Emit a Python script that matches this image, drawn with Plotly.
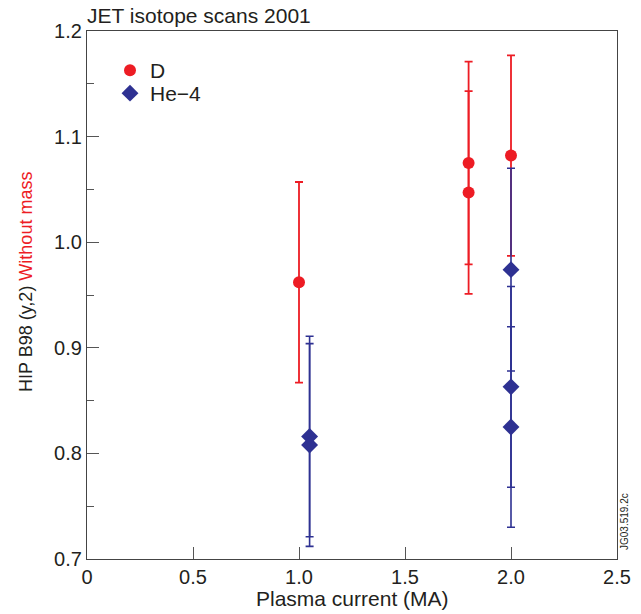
import plotly.graph_objects as go

# Data
d_x = [1.0, 1.8, 1.8, 2.0]
d_y = [0.962, 1.075, 1.047, 1.082]
d_err = [0.095, 0.096, 0.096, 0.095]

he_x = [1.05, 1.05, 2.0, 2.0, 2.0]
he_y = [0.816, 0.808, 0.974, 0.863, 0.825]
he_err = [0.095, 0.096, 0.096, 0.095, 0.095]

x_tickvals = [0, 0.5, 1.0, 1.5, 2.0, 2.5]
x_ticktext = ["0", "0.5", "1.0", "1.5", "2.0", "2.5"]
y_tickvals = [0.7, 0.8, 0.9, 1.0, 1.1, 1.2]
y_ticktext = ["0.7", "0.8", "0.9", "1.0", "1.1", "1.2"]

RED = "#ED1C24"
BLUE = "#2E3192"
FONT = "Liberation Sans"
TXT = "#231F20"

W, H = 641, 614
L, R, T, B = 87, 24, 31, 55
PW, PH = W - L - R, H - T - B

fig = go.Figure()
fig.add_trace(go.Scatter(
    x=d_x, y=d_y, mode="markers", name="D", legend="legend",
    marker=dict(symbol="circle", size=12, color=RED),
    error_y=dict(type="data", array=d_err, visible=True, color=RED, thickness=1.8, width=4),
))
fig.add_trace(go.Scatter(
    x=he_x, y=he_y, mode="markers", name="He\u22124", legend="legend2",
    marker=dict(symbol="diamond", size=13, color=BLUE),
    error_y=dict(type="data", array=he_err, visible=True, color=BLUE, thickness=1.6, width=4),
))

axis_common = dict(
    showgrid=False, zeroline=False, showline=True, linecolor="#444", linewidth=1.3,
    mirror=True, ticks="inside", tickcolor="#555", tickwidth=1.2, ticklen=12,
    tickfont=dict(family=FONT, size=20, color=TXT), automargin=False,
)

fig.update_xaxes(range=[0, 2.5], tickvals=x_tickvals, ticktext=x_ticktext, **axis_common)
fig.update_yaxes(range=[0.7, 1.2], tickvals=y_tickvals, ticktext=y_ticktext,
                 minor=dict(dtick=0.05, ticks="inside", ticklen=7, tickcolor="#555", tickwidth=1.2),
                 **axis_common)

legend_common = dict(xref="paper", yref="paper", xanchor="left", yanchor="top",
                     bgcolor="rgba(0,0,0,0)", font=dict(family=FONT, size=21, color=TXT),
                     itemwidth=30)

fig.update_layout(
    width=W, height=H,
    margin=dict(l=L, r=R, t=T, b=B),
    plot_bgcolor="white", paper_bgcolor="white",
    font=dict(family=FONT, color=TXT),
    title=dict(text="JET isotope scans 2001", x=L / W, xanchor="left",
               y=1 - 16 / H, yanchor="middle", font=dict(family=FONT, size=21, color=TXT)),
    showlegend=True,
    legend=dict(x=(110 - L) / PW, y=(H - B - 50) / PH, **legend_common),
    legend2=dict(x=(110 - L) / PW, y=(H - B - 73) / PH, **legend_common),
    annotations=[
        dict(text="Plasma current (MA)", xref="paper", yref="paper", x=0.5,
             y=-39 / PH, xanchor="center", yanchor="middle", showarrow=False,
             font=dict(family=FONT, size=21, color=TXT)),
        dict(text="HIP B98 (y,2) <span style='color:%s'>Without mass</span>" % RED,
             xref="paper", yref="paper", x=(26 - L) / PW, y=(H - B - 282) / PH,
             xanchor="center", yanchor="middle", textangle=-90, showarrow=False,
             font=dict(family=FONT, size=18, color=TXT)),
        dict(text="JG03.519.2c", xref="paper", yref="paper", x=(624 - L) / PW,
             y=(H - B - 522) / PH, xanchor="center", yanchor="middle", textangle=-90,
             showarrow=False, font=dict(family=FONT, size=10, color=TXT)),
    ],
)

fig.write_html("out.html")
